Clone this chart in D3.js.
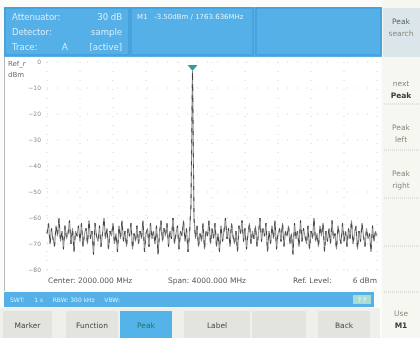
<!DOCTYPE html>
<html>
<head>
<meta charset="utf-8">
<script src="https://cdn.jsdelivr.net/npm/d3@7"></script>
<style>
  html, body { margin: 0; padding: 0; background: #fbfbf9; }
  svg { display: block; filter: blur(0.45px); }
  text { font-family: "DejaVu Sans", sans-serif; }
</style>
</head>
<body>
<svg id="chart" width="420" height="338"></svg>
<script>
// spectrum trace (dBm), sample detector, equally spaced over the span
const traceLevels = [
  -66, -62, -70, -64, -68, -71, -63, -67, -60, -69, -65, -72, -63, -68, -66, -61, -70, -64, -73, -65,
  -67, -63, -69, -62, -71, -66, -64, -70, -61, -68, -65, -74, -62, -67, -69, -63, -71, -66, -60, -68,
  -64, -72, -65, -67, -62, -70, -66, -73, -63, -68, -61, -69, -65, -71, -64, -67, -62, -72, -66, -69,
  -63, -70, -65, -68, -61, -73, -66, -64, -71, -62, -68, -65, -70, -63, -74, -66, -61, -69, -64, -67,
  -62, -71, -65, -68, -60, -70, -66, -63, -72, -65, -67, -61, -69, -64, -73, -66, -55, -3.5, -60, -68,
  -63, -71, -66, -69, -62, -72, -65, -67, -61, -70, -64, -68, -62, -71, -66, -73, -63, -69, -65, -60,
  -68, -64, -71, -62, -67, -70, -65, -73, -63, -66, -61, -69, -64, -72, -66, -62, -70, -65, -68, -63,
  -71, -66, -60, -69, -64, -67, -62, -73, -65, -70, -63, -68, -61, -72, -66, -64, -69, -62, -71, -65,
  -67, -63, -70, -66, -74, -62, -68, -65, -71, -61, -69, -64, -67, -70, -63, -72, -65, -68, -60, -69,
  -66, -71, -63, -67, -62, -73, -65, -69, -64, -70, -61, -68, -66, -72, -63, -67, -70, -62, -69, -65,
  -71, -64, -68, -61, -70, -66, -63, -72, -65, -69, -62, -67, -71, -64, -68, -66, -73, -63, -69, -65,
  -67
];
const spanMHz = [0, 4000];
const levelRange = [-80, 0];
const yTicks = [0, -10, -20, -30, -40, -50, -60, -70, -80];
const markerIndex = 97;

const headerLeft = [
  ['Attenuator:', '', '30 dB'],
  ['Detector:', '', 'sample'],
  ['Trace:', 'A', '[active]']
];
const markerText = 'M1   -3.50dBm / 1763.636MHz';
const footerText = ['Center: 2000.000 MHz', 'Span: 4000.000 MHz', 'Ref. Level:', '6 dBm'];
const statusText = 'SWT:     1 s     RBW: 300 kHz     VBW: ';
const softKeys = [['Peak', 'search'], ['next', 'Peak'], ['Peak', 'left'], ['Peak', 'right'], ['', ''], ['', ''], ['Use', 'M1']];
const bottomKeys = [
  { label: 'Marker', x0: 3, x1: 52 },
  { label: 'Function', x0: 66, x1: 118 },
  { label: 'Peak', x0: 120, x1: 172, active: true },
  { label: 'Label', x0: 184, x1: 250 },
  { label: '', x0: 252, x1: 306 },
  { label: 'Back', x0: 318, x1: 370 }
];

const svg = d3.select('#chart');
const blue = '#56b0e8';
const blueEdge = '#3f9bd6';
const plot = { left: 47, right: 377, top: 62, bottom: 270 };

const x = d3.scaleLinear().domain(spanMHz).range([plot.left, plot.right]);
const y = d3.scaleLinear().domain(levelRange).range([plot.bottom, plot.top]);

// ---- header ----
svg.append('rect').attr('x', 4).attr('y', 7).attr('width', 378).attr('height', 50).attr('fill', blue);
[[4, 126], [130, 124], [255, 127]].forEach(([bx, bw]) => {
  svg.append('rect').attr('x', bx + 1).attr('y', 8).attr('width', bw - 2).attr('height', 47)
    .attr('fill', 'none').attr('stroke', blueEdge).attr('stroke-width', 1.2);
});
headerLeft.forEach((row, i) => {
  const ty = 20 + i * 15;
  svg.append('text').attr('x', 12).attr('y', ty).attr('font-size', 8.5).attr('fill', '#d6ecfa').text(row[0]);
  svg.append('text').attr('x', 62).attr('y', ty).attr('font-size', 8.5).attr('fill', '#d6ecfa').text(row[1]);
  svg.append('text').attr('x', 122).attr('y', ty).attr('font-size', 8.5).attr('text-anchor', 'end')
    .attr('fill', '#d6ecfa').text(row[2]);
});
svg.append('text').attr('x', 137).attr('y', 19).attr('font-size', 7).attr('fill', '#dff0fb')
  .attr('xml:space', 'preserve').text(markerText);

// ---- right soft keys ----
svg.append('rect').attr('x', 382).attr('y', 0).attr('width', 38).attr('height', 338).attr('fill', '#f7f7f2');
svg.append('rect').attr('x', 383).attr('y', 8).attr('width', 37).attr('height', 49).attr('fill', '#dce6ea');
const keyY = [24, 86, 130, 176, 222, 268, 316];
softKeys.forEach((k, i) => {
  svg.append('text').attr('x', 401).attr('y', keyY[i]).attr('font-size', 7.5).attr('text-anchor', 'middle')
    .attr('fill', i === 0 ? '#4d6b6b' : '#8a8a80').text(k[0]);
  svg.append('text').attr('x', 401).attr('y', keyY[i] + 12).attr('font-size', 7.5).attr('text-anchor', 'middle')
    .attr('fill', i === 1 || i === 6 ? '#3a3a36' : '#8a8a80').attr('font-weight', i === 1 || i === 6 ? 'bold' : 'normal')
    .text(k[1]);
});
[104, 150, 198, 246, 292].forEach(sy => {
  svg.append('line').attr('x1', 384).attr('x2', 420).attr('y1', sy).attr('y2', sy)
    .attr('stroke', '#c8c8c0').attr('stroke-dasharray', '1,1');
});

// ---- plot area ----
svg.append('rect').attr('x', 5).attr('y', 57).attr('width', 376).attr('height', 233).attr('fill', '#ffffff');
svg.append('line').attr('x1', 4.5).attr('x2', 4.5).attr('y1', 57).attr('y2', 291).attr('stroke', '#b8b8b8');

const grid = svg.append('g');
grid.selectAll('line.h').data(yTicks).join('line')
  .attr('x1', plot.left).attr('x2', plot.right)
  .attr('y1', d => y(d)).attr('y2', d => y(d))
  .attr('stroke', '#d4d4d4').attr('stroke-dasharray', '1,9');
grid.selectAll('line.v').data(d3.range(0, 4001, 400)).join('line')
  .attr('x1', d => x(d)).attr('x2', d => x(d))
  .attr('y1', plot.top).attr('y2', plot.bottom)
  .attr('stroke', '#d4d4d4').attr('stroke-dasharray', '1,8');

const yAxis = d3.axisLeft(y).tickValues(yTicks).tickSize(0).tickPadding(0);
svg.append('g').attr('transform', `translate(${plot.left - 6},0)`).call(yAxis)
  .call(g => g.select('.domain').remove())
  .call(g => g.selectAll('text').attr('font-size', 6).attr('fill', '#8c8c8c').style('font-family', '"DejaVu Sans", sans-serif'));

svg.append('text').attr('x', 8).attr('y', 66).attr('font-size', 7).attr('fill', '#6e6e6e').text('Ref_r');
svg.append('text').attr('x', 8).attr('y', 77).attr('font-size', 7).attr('fill', '#6e6e6e').text('dBm');

// trace
const step = (spanMHz[1] - spanMHz[0]) / (traceLevels.length - 1);
const pts = traceLevels.map((v, i) => [spanMHz[0] + i * step, v]);
const line = d3.line().x(d => x(d[0])).y(d => y(d[1]));
svg.append('path').datum(pts).attr('d', line)
  .attr('fill', 'none').attr('stroke', '#8a8a8a').attr('stroke-width', 1);
svg.append('path').datum(pts).attr('d', line)
  .attr('fill', 'none').attr('stroke', '#2e2e2e').attr('stroke-width', 0.8).attr('stroke-dasharray', '4,7');

// marker M1
const mx = x(pts[markerIndex][0]);
const my = y(pts[markerIndex][1]);
svg.append('path').attr('d', `M${mx - 5},${my - 6} L${mx + 5},${my - 6} L${mx},${my} Z`).attr('fill', '#2f9c9a');

// footer line
svg.append('text').attr('x', 48).attr('y', 283).attr('font-size', 7.5).attr('fill', '#5a5a5a').text(footerText[0]);
svg.append('text').attr('x', 168).attr('y', 283).attr('font-size', 7.5).attr('fill', '#5a5a5a').text(footerText[1]);
svg.append('text').attr('x', 293).attr('y', 283).attr('font-size', 7.5).attr('fill', '#5a5a5a').text(footerText[2]);
svg.append('text').attr('x', 377).attr('y', 283).attr('font-size', 7.5).attr('text-anchor', 'end').attr('fill', '#5a5a5a').text(footerText[3]);

// ---- status bar ----
svg.append('rect').attr('x', 4).attr('y', 292).attr('width', 370).attr('height', 15).attr('fill', blue);
svg.append('text').attr('x', 10).attr('y', 302).attr('font-size', 6).attr('fill', '#d9eefb')
  .attr('xml:space', 'preserve').text(statusText);
svg.append('rect').attr('x', 353).attr('y', 295).attr('width', 18).attr('height', 9).attr('fill', '#a9dcd2');
svg.append('text').attr('x', 362).attr('y', 302).attr('font-size', 6).attr('text-anchor', 'middle').attr('fill', '#ffffff').text('? ?');

// ---- bottom keys ----
svg.append('rect').attr('x', 0).attr('y', 308).attr('width', 380).attr('height', 30).attr('fill', '#efefec');
bottomKeys.forEach(k => {
  svg.append('rect').attr('x', k.x0).attr('y', 311).attr('width', k.x1 - k.x0).attr('height', 27)
    .attr('fill', k.active ? '#54b4ea' : '#e3e3df');
  svg.append('text').attr('x', (k.x0 + k.x1) / 2).attr('y', 328).attr('font-size', 7.5).attr('text-anchor', 'middle')
    .attr('fill', k.active ? '#2a6f6a' : '#4a4a44').text(k.label);
});
</script>
</body>
</html>
